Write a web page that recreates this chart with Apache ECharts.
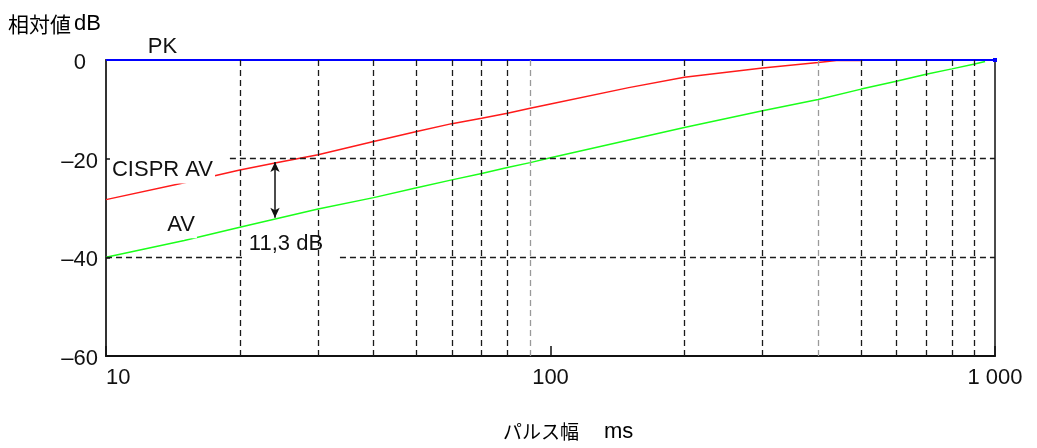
<!DOCTYPE html>
<html>
<head>
<meta charset="utf-8">
<script src="https://cdn.jsdelivr.net/npm/echarts@6/dist/echarts.min.js"></script>
<style>
html,body{margin:0;padding:0;background:#fff;}
#c{width:1037px;height:448px;}
</style>
</head>
<body>
<div id="c"></div>
<script>
// Pulse width (ms) and relative levels (dB)
const cisprAvX = [10, 15, 20, 24, 30, 40, 50, 60, 70, 80, 90, 100, 150, 200, 300, 400, 440, 500];
const cisprAvY = [-28.3, -24.9, -22.3, -20.9, -19.2, -16.5, -14.5, -12.9, -11.8, -10.8, -9.8, -8.9, -5.6, -3.5, -1.6, -0.5, -0.1, -0.1];
const avX = [10, 15, 20, 30, 40, 50, 60, 70, 80, 90, 100, 200, 300, 400, 500, 600, 700, 800, 900, 950];
const avY = [-40, -36.6, -33.9, -30.2, -27.9, -25.9, -24.3, -23.0, -21.8, -20.8, -19.8, -13.7, -10.3, -8.0, -5.9, -4.3, -2.9, -1.8, -0.8, -0.3];
const pkX = [10, 1000];
const pkY = [0, 0];
const minorGridDark = [20, 30, 40, 50, 60, 70, 80, 200, 300, 500, 600, 700, 800, 900];
const minorGridGrey = [90, 400];
const yTicks = [0, -20, -40, -60];
const arrowAt = 24;
const arrowFrom = -20.7;
const arrowTo = -32.0;

const zip = (xs, ys) => xs.map((x, i) => [x, ys[i]]);
const FONT = '"Liberation Sans", Arial, sans-serif';
const CJK = '"Noto Sans CJK JP", "Noto Sans", sans-serif';
const dash = {color: '#1a1a1a', width: 1.3, type: [6, 4]};

const chart = echarts.init(document.getElementById('c'), null, {renderer: 'canvas'});
chart.setOption({
  animation: false,
  backgroundColor: '#fff',
  grid: {left: 106, right: 42, top: 60, bottom: 92, show: true, borderColor: '#111', borderWidth: 1.5, backgroundColor: 'transparent'},
  xAxis: {
    type: 'log', logBase: 10, min: 10, max: 1000,
    axisLine: {show: true, onZero: false, lineStyle: {color: '#111', width: 2}},
    axisTick: {show: true, inside: true, length: 10, lineStyle: {color: '#111', width: 1.5}},
    splitLine: {show: false},
    axisLabel: {
      fontFamily: FONT, fontSize: 22, color: '#111', margin: 11, alignMinLabel: 'left',
      formatter: v => v >= 1000 ? String(v).replace(/\B(?=(\d{3})+(?!\d))/g, ' ') : String(v)
    }
  },
  yAxis: {
    type: 'value', min: -60, max: 0, interval: 20,
    axisLine: {show: true, onZero: false, lineStyle: {color: '#333', width: 2}},
    axisTick: {show: true, inside: true, length: 4, lineStyle: {color: '#111', width: 1.5}},
    splitLine: {show: false},
    axisLabel: {
      fontFamily: FONT, fontSize: 22, color: '#111', margin: 8,
      formatter: v => v === 0 ? '{z|0}' : '{n|\u2013' + Math.abs(v) + '}',
      rich: {
        z: {fontFamily: FONT, fontSize: 22, color: '#111', padding: [6, 12, 0, 0]},
        n: {fontFamily: FONT, fontSize: 22, color: '#111', padding: [6, 0, 0, 0]}
      }
    }
  },
  graphic: [
    {type: 'text', left: 8, top: 13, style: {
      text: '{a|相対値}{b|dB}',
      rich: {a: {fontFamily: CJK, fontSize: 21, color: '#333'}, b: {fontFamily: FONT, fontSize: 22, color: '#111', padding: [0, 0, 0, 3]}}
    }},
    {type: 'text', left: 503, top: 421, style: {
      text: '{a|パルス幅}{b|ms}',
      rich: {a: {fontFamily: CJK, fontSize: 19, color: '#333'}, b: {fontFamily: FONT, fontSize: 22, color: '#111', padding: [0, 0, 0, 25]}}
    }}
  ],
  series: [
    {
      name: 'grid', type: 'line', data: [], z: 1, silent: true,
      markLine: {
        silent: true, symbol: 'none', animation: false, label: {show: false},
        data: [
          ...minorGridDark.map(v => ({xAxis: v, lineStyle: dash})),
          ...minorGridGrey.map(v => ({xAxis: v, lineStyle: {color: '#9a9a9a', width: 1.3, type: [6, 4]}})),
          [{coord: [19, yTicks[1]], lineStyle: dash}, {coord: [1000, yTicks[1]]}],
          [{coord: [10, yTicks[2]], lineStyle: dash}, {coord: [20.5, yTicks[2]]}],
          [{coord: [33.6, yTicks[2]], lineStyle: dash}, {coord: [1000, yTicks[2]]}]
        ]
      }
    },
    {
      name: 'CISPR AV', type: 'line', data: zip(cisprAvX, cisprAvY), z: 3,
      showSymbol: false, smooth: false, lineStyle: {color: '#ff1a1a', width: 1.5}
    },
    {
      name: 'AV', type: 'line', data: zip(avX, avY), z: 3,
      showSymbol: false, smooth: false, lineStyle: {color: '#1aff1a', width: 1.5}
    },
    {
      name: 'PK', type: 'line', z: 4, symbol: 'none', showSymbol: true,
      data: [zip(pkX, pkY)[0], {value: zip(pkX, pkY)[1], symbol: 'rect', symbolSize: 4, itemStyle: {color: '#0000ff'}}],
      lineStyle: {color: '#0000ff', width: 1.8}
    },
    {
      name: 'labels', type: 'line', data: [], z: 6, silent: true,
      markPoint: {
        silent: true, symbol: 'rect', symbolSize: 0, animation: false,
        label: {show: true, position: 'inside', fontFamily: FONT, fontSize: 22, color: '#111'},
        data: [
          {coord: [13.4, 0], label: {formatter: 'PK', offset: [0, -13]}},
          {coord: [13.4, -22.3], label: {formatter: 'CISPR AV', backgroundColor: '#fff', padding: [2, 2, 3, 2]}},
          {coord: [14.75, -33.4], label: {formatter: 'AV', backgroundColor: '#fff', padding: [2, 2, 3, 2]}},
          {coord: [25.4, -37.3], label: {formatter: '11,3 dB'}}
        ]
      },
      markLine: {
        silent: true, symbol: ['arrow', 'arrow'], symbolSize: [7, 10], animation: false,
        label: {show: false},
        lineStyle: {color: '#111', width: 1.5, type: 'solid'},
        data: [[{coord: [arrowAt, arrowFrom]}, {coord: [arrowAt, arrowTo]}]]
      }
    }
  ]
});
</script>
</body>
</html>
